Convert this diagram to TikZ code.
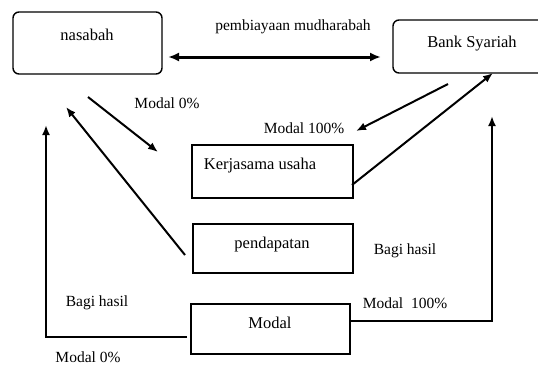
\documentclass[tikz,border=0pt]{standalone}
\usepackage{fontspec}
\setmainfont{Liberation Serif}
\usetikzlibrary{arrows,arrows.meta}

\tikzset{
	kotak/.style={draw,line width=1.4pt,inner sep=0pt},
	kotakr/.style={kotak,rounded corners=6pt},
	teks/.style={font=\fontsize{16.5}{18}\selectfont,inner sep=0pt},
	lbl/.style={font=\fontsize{15.5}{17}\selectfont,inner sep=0pt},
	panah/.style={-{Latex[length=10pt,width=8pt]},line width=2pt}
}

\begin{document}
\begin{tikzpicture}[x=1pt,y=-1pt]
\useasboundingbox (0,0) rectangle (538,365);

% kotak
\node[kotakr,minimum width=149pt,minimum height=62pt] (nasabah) at (87.5,43) {};
\node[teks] (nasabah-t) at (87,35) {nasabah};
\node[kotakr,minimum width=155pt,minimum height=53pt] (bank) at (470.5,46.5) {};
\node[teks] (bank-t) at (472,44) {Bank Syariah};
\node[kotak,minimum width=161pt,minimum height=53pt] (kerja) at (272.5,171.5) {};
\node[teks] (kerja-t) at (260,166) {Kerjasama usaha};
\node[kotak,minimum width=160pt,minimum height=49pt] (pendapatan) at (273,248.5) {};
\node[teks] (pendapatan-t) at (272,245) {pendapatan};
\node[kotak,minimum width=159pt,minimum height=50pt] (modal) at (270.5,329) {};
\node[teks] (modal-t) at (270,323) {Modal};

% ujung panah
\coordinate (p1) at (168,57);
\coordinate (p2) at (381,57);
\coordinate (p3) at (88,97);
\coordinate (p4) at (158,152);
\coordinate (p5) at (185,255);
\coordinate (p6) at (66,107);
\coordinate (p7) at (448,84);
\coordinate (p8) at (356,131);
\coordinate (p9) at (352,185);
\coordinate (p10) at (493,73);
\coordinate (m1) at (350,321);
\coordinate (m2) at (492,321);
\coordinate (m3) at (492,116);
\coordinate (m4) at (187,337);
\coordinate (m5) at (46,337);
\coordinate (m6) at (46,125);

\draw[{Latex[length=11pt,width=9pt]}-{Latex[length=11pt,width=9pt]},line width=3pt] (p1) -- (p2);
\draw[panah] (p3) -- (p4);
\draw[panah] (p5) -- (p6);
\draw[panah] (p7) -- (p8);
\draw[panah] (p9) -- (p10);
\draw[panah] (m1) -- (m2) -- (m3);
\draw[panah] (m4) -- (m5) -- (m6);

% label
\node[lbl] (l-mudharabah) at (293,27) {pembiayaan mudharabah};
\node[lbl] (l-modal0a) at (167,103) {Modal 0\%};
\node[lbl] (l-modal100a) at (304,128) {Modal 100\%};
\node[lbl] (l-bagia) at (405,251) {Bagi hasil};
\node[lbl] (l-modal100b) at (405,303) {Modal\ \ 100\%};
\node[lbl] (l-bagib) at (97,303) {Bagi hasil};
\node[lbl] (l-modal0b) at (88,357) {Modal 0\%};
\end{tikzpicture}
\end{document}
